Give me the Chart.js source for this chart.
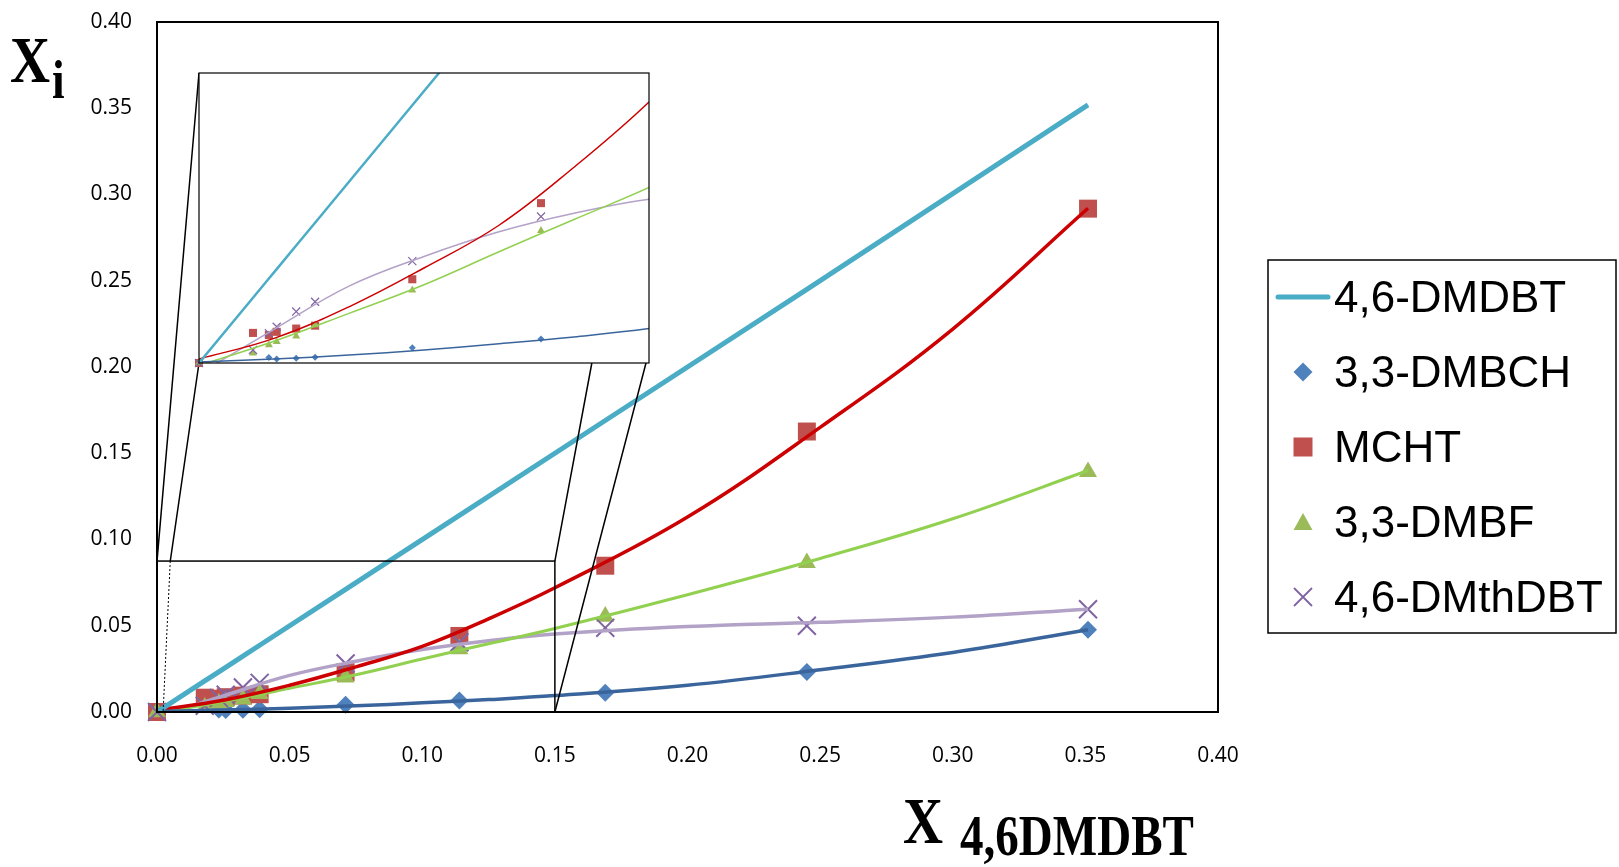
<!DOCTYPE html>
<html>
<head>
<meta charset="utf-8">
<script src="https://cdn.jsdelivr.net/npm/chart.js"></script>
<style>
  html, body { margin: 0; padding: 0; background: #fff; }
  #wrap { position: relative; width: 1619px; height: 867px; overflow: hidden; }
  #main { position: absolute; left: 0; top: 0; }
  #inset { position: absolute; }
</style>
</head>
<body>
<div id="wrap">
  <canvas id="main" width="1619" height="867"></canvas>
  <canvas id="inset"></canvas>
</div>
<script>
// mole fraction of 4,6-DMDBT (x) and the products (y)
const X_46DMDBT  = [0, 0.018, 0.0233, 0.0259, 0.0324, 0.0387, 0.0711, 0.114, 0.169, 0.245, 0.351];
const Y_46DMDBT  = [0, 0.018, 0.0233, 0.0259, 0.0324, 0.0387, 0.0711, 0.114, 0.169, 0.245, 0.352];
const Y_DMBCH    = [0, null, 0.0015, 0.0011, 0.0013, 0.0016, 0.0042, 0.0066, 0.0111, 0.0232, 0.0477];
const Y_MCHT     = [0, 0.0083, 0.0077, 0.0086, 0.0095, 0.0103, 0.0231, 0.0441, 0.0848, 0.1626, 0.2918];
const Y_DMBF     = [0, 0.0027, 0.0050, 0.0059, 0.0074, 0.0105, 0.0201, 0.0365, 0.0554, 0.0865, 0.1392];
const Y_DMTHDBT  = [0, 0.0036, 0.0082, 0.0100, 0.0142, 0.0169, 0.0281, 0.0404, 0.0488, 0.0500, 0.0596];

// trend lines
const TREND_X        = [0, 0.025, 0.05, 0.075, 0.1, 0.125, 0.15, 0.2, 0.25, 0.3, 0.351];
const TREND_DMBCH    = [0.0003, 0.0011, 0.0022, 0.0036, 0.0053, 0.0072, 0.0095, 0.0155, 0.0245, 0.0345, 0.0477];
const TREND_MCHT     = [0.0011, 0.0068, 0.0155, 0.0262, 0.038, 0.054, 0.072, 0.113, 0.165, 0.222, 0.292];
const TREND_DMBF     = [-0.0007, 0.006, 0.0137, 0.0216, 0.0307, 0.0396, 0.0484, 0.068, 0.089, 0.112, 0.140];
const TREND_DMTHDBT  = [-0.003, 0.0093, 0.0212, 0.0294, 0.0362, 0.0413, 0.0452, 0.0495, 0.052, 0.055, 0.0596];

const TICK_STEP = 0.05;
const AXIS_MAX  = 0.4;
const ZOOM_X = 0.15, ZOOM_Y = 0.0875;     // small box on the main chart
const INSET_X = 0.15, INSET_Y = 0.08;     // ranges of the enlarged view

const COL = {
    dmdbt: '#4bacc6',
    dmbch: '#4f81bd', dmbchLine: '#3a659c',
    mcht: '#c0504d',  mchtLine: '#cc0000',
    dmbf: '#9bbb59',  dmbfLine: '#92d050',
    thdbt: '#8064a2', thdbtLine: '#b3a2c7',
};

const AREA  = { left: 157, top: 22, right: 1218, bottom: 712 };
const INSET = { left: 199, top: 73, right: 649, bottom: 363, pad: 10 };
const TICK_FONT = { family: '"Open Sans", sans-serif', size: 21 };

const pts = (xs, ys) => xs.map((x, i) => ({ x, y: ys[i] })).filter(p => p.y !== null);

function makeDatasets(main) {
    const lw = main ? 3.5 : 1.5;
    const line = (data, color, width) => ({
        data, showLine: true, borderColor: color, borderWidth: width,
        pointRadius: 0, tension: 0.4, clip: 0, order: 0,
    });
    const mark = (data, style, r, color, order, stroke) => ({
        data, pointStyle: style, pointRadius: r, pointHoverRadius: r,
        pointBackgroundColor: color, pointBorderColor: color,
        pointBorderWidth: stroke || 0, clip: main ? 14 : 8, order,
    });
    return [
        { ...line(pts(X_46DMDBT, Y_46DMDBT), COL.dmdbt, main ? 5 : 2.5), tension: 0 },
        line(pts(TREND_X, TREND_DMBCH),   COL.dmbchLine, lw),
        line(pts(TREND_X, TREND_MCHT),    COL.mchtLine, main ? 3.5 : 1.5),
        line(pts(TREND_X, TREND_DMBF),    COL.dmbfLine, main ? 3 : 1.5),
        line(pts(TREND_X, TREND_DMTHDBT), COL.thdbtLine, lw),
        mark(pts(X_46DMDBT, Y_DMTHDBT), 'crossRot', main ? 12.7 : 5.7, COL.thdbt, 1, main ? 2 : 1.2),
        mark(pts(X_46DMDBT, Y_DMBF),    'triangle', main ? 10.4 : 4.6, COL.dmbf, 2),
        mark(pts(X_46DMDBT, Y_MCHT),    'rect',     main ? 12.7 : 5.7, COL.mcht, 3),
        mark(pts(X_46DMDBT, Y_DMBCH),   'rectRot',  main ? 9 : 3.5,    COL.dmbch, 4),
    ];
}

const LEGEND_ITEMS = [
    { label: '4,6-DMDBT', kind: 'line',     color: COL.dmdbt },
    { label: '3,3-DMBCH', kind: 'diamond',  color: COL.dmbch },
    { label: 'MCHT',      kind: 'square',   color: COL.mcht },
    { label: '3,3-DMBF',  kind: 'triangle', color: COL.dmbf },
    { label: '4,6-DMthDBT', kind: 'cross',  color: COL.thdbt },
];

function legendSymbol(ctx, kind, x, y, color) {
    ctx.save();
    ctx.fillStyle = color; ctx.strokeStyle = color;
    ctx.beginPath();
    if (kind === 'line') {
        ctx.lineWidth = 5; ctx.lineCap = 'round';
        ctx.moveTo(x - 25, y); ctx.lineTo(x + 25, y); ctx.stroke();
    } else if (kind === 'diamond') {
        ctx.moveTo(x, y - 9.5); ctx.lineTo(x + 9.5, y); ctx.lineTo(x, y + 9.5); ctx.lineTo(x - 9.5, y);
        ctx.closePath(); ctx.fill();
    } else if (kind === 'square') {
        ctx.fillRect(x - 9.5, y - 9.5, 19, 19);
    } else if (kind === 'triangle') {
        ctx.moveTo(x, y - 9); ctx.lineTo(x + 9.5, y + 8); ctx.lineTo(x - 9.5, y + 8);
        ctx.closePath(); ctx.fill();
    } else {
        ctx.lineWidth = 1.8;
        ctx.moveTo(x - 9, y - 9); ctx.lineTo(x + 9, y + 9);
        ctx.moveTo(x + 9, y - 9); ctx.lineTo(x - 9, y + 9); ctx.stroke();
    }
    ctx.restore();
}

function serifText(ctx, text, x, baseline, size) {
    ctx.save();
    ctx.font = `bold ${size}px "Liberation Serif", "DejaVu Serif", serif`;
    ctx.fillStyle = '#000';
    ctx.textBaseline = 'alphabetic';
    ctx.translate(x, baseline);
    ctx.scale(0.84, 1);
    ctx.fillText(text, 0, 0);
    ctx.restore();
}

const mainDecor = {
    id: 'mainDecor',
    afterDatasetsDraw(chart) {
        const { ctx, chartArea: a } = chart;
        const xs = chart.scales.x, ys = chart.scales.y;
        ctx.save();
        ctx.strokeStyle = '#000';

        // plot frame
        ctx.lineWidth = 2;
        ctx.strokeRect(a.left, a.top, a.right - a.left, a.bottom - a.top);

        // zoom box
        const bl = xs.getPixelForValue(0), br = xs.getPixelForValue(ZOOM_X);
        const bt = ys.getPixelForValue(ZOOM_Y), bb = ys.getPixelForValue(0);
        ctx.lineWidth = 1.5;
        ctx.strokeRect(bl, bt, br - bl, bb - bt);

        // links to the enlarged view
        ctx.beginPath();
        ctx.moveTo(INSET.left, INSET.top); ctx.lineTo(bl, bt);
        ctx.moveTo(INSET.left, INSET.bottom); ctx.lineTo(xs.getPixelForValue(0.005), bt);
        ctx.moveTo(INSET.left + 0.873 * (INSET.right - INSET.left), INSET.bottom); ctx.lineTo(br, bt);
        ctx.moveTo(INSET.right - 3, INSET.bottom); ctx.lineTo(br, bb);
        ctx.stroke();
        ctx.lineWidth = 1;
        ctx.setLineDash([2, 2]);
        ctx.beginPath();
        ctx.moveTo(xs.getPixelForValue(0.005), bt); ctx.lineTo(xs.getPixelForValue(0.0023), bb);
        ctx.stroke();
        ctx.setLineDash([]);
        ctx.restore();
    },
    afterDraw(chart) {
        const ctx = chart.ctx;
        ctx.save();

        // legend
        ctx.strokeStyle = '#000';
        ctx.lineWidth = 1.5;
        ctx.strokeRect(1268, 260, 348, 373);
        ctx.font = '44px "Liberation Sans", Arial, sans-serif';
        ctx.fillStyle = '#000';
        ctx.textBaseline = 'alphabetic';
        LEGEND_ITEMS.forEach((it, i) => {
            const cy = 297 + i * 75;
            legendSymbol(ctx, it.kind, 1303, cy, it.color);
            ctx.fillText(it.label, 1334, cy + 15);
        });
        ctx.restore();

        // axis titles
        serifText(ctx, 'X', 10, 82, 66);
        serifText(ctx, 'i', 52, 98, 54);
        serifText(ctx, 'X', 903, 843, 66);
        serifText(ctx, '4,6DMDBT', 960, 855, 56);
    },
};

new Chart(document.getElementById('main'), {
    type: 'scatter',
    data: { datasets: makeDatasets(true) },
    options: {
        responsive: false,
        animation: false,
        layout: { padding: { left: 0, top: AREA.top, right: 1619 - AREA.right, bottom: 0 } },
        plugins: { legend: { display: false }, tooltip: { enabled: false } },
        scales: {
            x: {
                type: 'linear', min: 0, max: AXIS_MAX,
                grid: { display: false, drawTicks: false }, border: { display: false },
                ticks: { stepSize: TICK_STEP, padding: 31, color: '#000', font: TICK_FONT, maxRotation: 0,
                         callback: v => v.toFixed(2) },
                afterFit: s => { s.height = 867 - AREA.bottom; s.paddingLeft = 0; s.paddingRight = 0; },
            },
            y: {
                type: 'linear', min: 0, max: AXIS_MAX,
                grid: { display: false, drawTicks: false }, border: { display: false },
                ticks: { stepSize: TICK_STEP, padding: 25, color: '#000', font: TICK_FONT,
                         callback: v => v.toFixed(2) },
                afterFit: s => { s.width = AREA.left; s.paddingTop = 0; s.paddingBottom = 0; },
            },
        },
    },
    plugins: [mainDecor],
});

// enlarged view of the low-concentration region
const insetCanvas = document.getElementById('inset');
insetCanvas.width  = INSET.right - INSET.left + 2 * INSET.pad;
insetCanvas.height = INSET.bottom - INSET.top + 2 * INSET.pad;
insetCanvas.style.left = (INSET.left - INSET.pad) + 'px';
insetCanvas.style.top  = (INSET.top - INSET.pad) + 'px';

const insetFrame = {
    id: 'insetFrame',
    beforeDatasetsDraw(chart) {
        const { ctx, chartArea: a } = chart;
        ctx.save();
        ctx.fillStyle = '#fff';
        ctx.fillRect(a.left, a.top, a.right - a.left, a.bottom - a.top);
        ctx.restore();
    },
    afterDatasetsDraw(chart) {
        const { ctx, chartArea: a } = chart;
        ctx.save();
        ctx.strokeStyle = '#000';
        ctx.lineWidth = 1.2;
        ctx.strokeRect(a.left, a.top, a.right - a.left, a.bottom - a.top);
        ctx.restore();
    },
};

new Chart(insetCanvas, {
    type: 'scatter',
    data: { datasets: makeDatasets(false) },
    options: {
        responsive: false,
        animation: false,
        layout: { padding: INSET.pad },
        plugins: { legend: { display: false }, tooltip: { enabled: false } },
        scales: {
            x: { type: 'linear', min: 0, max: INSET_X, display: false },
            y: { type: 'linear', min: 0, max: INSET_Y, display: false },
        },
    },
    plugins: [insetFrame],
});
</script>
</body>
</html>
